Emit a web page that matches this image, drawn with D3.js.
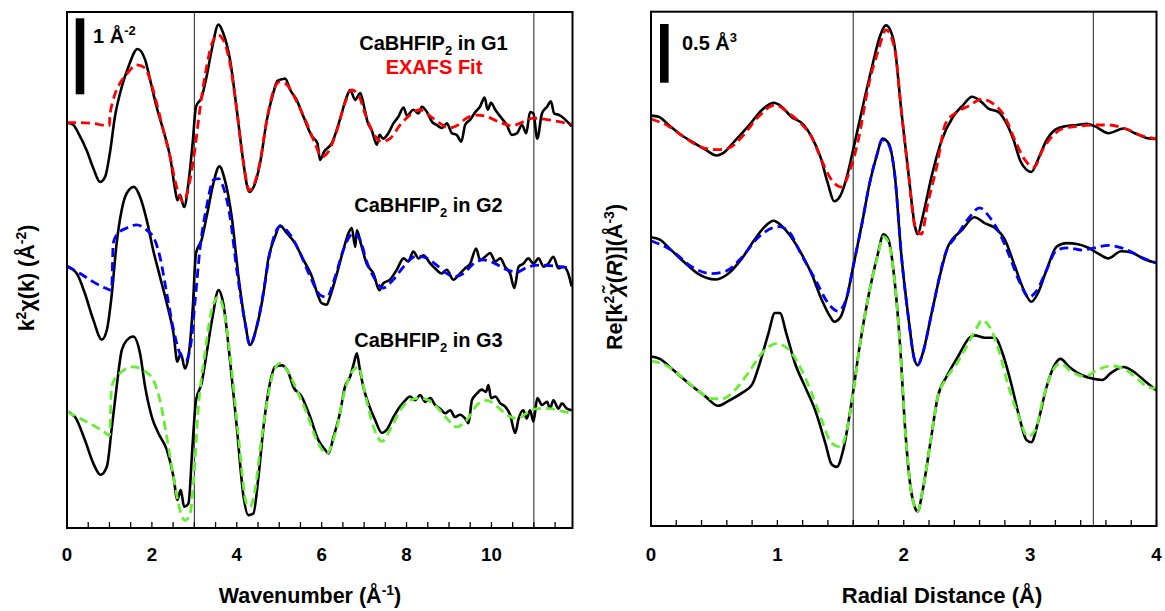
<!DOCTYPE html>
<html><head><meta charset="utf-8">
<script src="https://cdn.jsdelivr.net/npm/d3@7"></script>
<style>
body{margin:0;background:#fff;}
text{font-family:Arial,"Liberation Sans",sans-serif;font-weight:bold;fill:#000;}
</style></head>
<body><svg id="c" width="1165" height="611"></svg>
<script>
// ---------- DATA ----------
const kTicks = [0,2,4,6,8,10];
const rTicks = [0,1,2,3,4];
const kWindow = [3,11];
const rWindow = [1.6,3.5];
const seriesLabels = ["G1","G2","G3"];
const fitColors = ["#ff0000","#0000ff","#66ee33"];
const kOffsets = [1.895,0,-1.908];
const rOffsets = [1.056,0,-1.056];

const g1Data = [[0,0],[0.15,-0.03],[0.27,-0.14],[0.46,-0.36],[0.62,-0.60],[0.78,-0.78],[0.90,-0.71],[1.01,-0.40],[1.13,0.08],[1.29,0.47],[1.45,0.74],[1.66,0.97],[1.84,0.83],[1.96,0.56],[2.11,0.21],[2.27,-0.10],[2.43,-0.45],[2.55,-0.89],[2.60,-1.02],[2.66,-0.95],[2.76,-1.11],[2.86,-0.80],[2.96,-0.27],[3.04,0.21],[3.17,0.33],[3.29,0.61],[3.41,0.96],[3.57,1.29],[3.68,1.18],[3.84,0.83],[4.00,0.17],[4.15,-0.50],[4.25,-0.85],[4.31,-0.91],[4.43,-0.80],[4.55,-0.53],[4.71,0.04],[4.86,0.39],[4.96,0.55],[5.06,0.57],[5.14,0.58],[5.26,0.43],[5.41,0.30],[5.57,0.08],[5.77,-0.18],[5.90,-0.27],[5.96,-0.49],[6.06,-0.38],[6.24,-0.27],[6.43,0.04],[6.59,0.34],[6.67,0.43],[6.79,0.30],[6.91,0.39],[7.00,0.21],[7.08,0.01],[7.18,-0.10],[7.30,-0.29],[7.36,-0.16],[7.45,-0.21],[7.57,-0.14],[7.69,-0.01],[7.81,0.08],[7.93,0.20],[8.01,0.09],[8.16,0.17],[8.28,0.12],[8.36,0.21],[8.48,0.14],[8.60,0.01],[8.71,-0.03],[8.83,-0.07],[8.95,-0.01],[9.07,-0.14],[9.18,-0.16],[9.29,-0.25],[9.38,-0.03],[9.50,0.04],[9.62,0.14],[9.73,0.21],[9.84,0.33],[9.91,0.17],[9.99,0.26],[10.09,0.17],[10.21,0.08],[10.36,-0.03],[10.48,-0.16],[10.60,-0.14],[10.72,-0.03],[10.82,-0.14],[10.91,0.14],[10.99,0.12],[11.08,-0.21],[11.19,0.12],[11.31,0.21],[11.40,0.28],[11.48,0.12],[11.60,0.10],[11.74,0.04],[11.89,-0.05]];
const g1Fit = [[0,0],[0.31,0],[0.62,-0.01],[0.94,-0.04],[1.0,-0.04],[1.01,0.08],[1.09,0.30],[1.25,0.52],[1.41,0.64],[1.64,0.76],[1.84,0.72],[1.96,0.56],[2.11,0.26],[2.27,-0.10],[2.43,-0.45],[2.58,-0.84],[2.74,-1.04],[2.90,-0.75],[3.02,-0.32],[3.13,0.17],[3.29,0.74],[3.45,1.09],[3.57,1.15],[3.68,1.09],[3.84,0.78],[4.00,0.17],[4.15,-0.50],[4.30,-0.89],[4.43,-0.78],[4.55,-0.51],[4.71,0.04],[4.86,0.41],[5.02,0.54],[5.18,0.50],[5.41,0.28],[5.65,-0.01],[5.84,-0.27],[6.00,-0.45],[6.16,-0.38],[6.36,-0.10],[6.55,0.26],[6.71,0.43],[6.87,0.36],[7.02,0.12],[7.22,-0.14],[7.42,-0.25],[7.61,-0.21],[7.85,-0.03],[8.08,0.10],[8.32,0.17],[8.55,0.09],[8.79,-0.01],[8.99,-0.07],[9.18,-0.04],[9.42,0.06],[9.66,0.10],[9.89,0.08],[10.21,0],[10.48,-0.04],[10.75,0.01],[10.99,0.06],[11.31,0.04],[11.62,0.01],[11.89,-0.02]];
const g2Data = [[0,0],[0.23,-0.09],[0.42,-0.35],[0.62,-0.70],[0.82,-0.96],[0.94,-0.83],[1.05,-0.39],[1.17,0.31],[1.29,0.75],[1.41,0.97],[1.58,1.05],[1.72,0.92],[1.88,0.61],[2.03,0.22],[2.19,-0.13],[2.35,-0.48],[2.51,-0.88],[2.60,-1.25],[2.68,-1.14],[2.78,-1.34],[2.88,-1.10],[2.96,-0.57],[3.04,0.18],[3.17,0.35],[3.29,0.66],[3.45,1.10],[3.59,1.32],[3.72,1.14],[3.88,0.66],[4.04,-0.13],[4.20,-0.75],[4.31,-1.03],[4.47,-0.79],[4.63,-0.35],[4.74,0.09],[4.90,0.39],[5.02,0.54],[5.18,0.44],[5.37,0.31],[5.57,0.09],[5.77,-0.13],[5.92,-0.39],[6.00,-0.48],[6.12,-0.50],[6.20,-0.39],[6.36,-0.09],[6.51,0.22],[6.63,0.44],[6.71,0.51],[6.79,0.26],[6.83,0.48],[6.92,0.31],[7.06,0.04],[7.22,-0.09],[7.36,-0.31],[7.45,-0.22],[7.61,-0.17],[7.77,-0.04],[7.93,0.11],[8.04,0.07],[8.16,0.20],[8.28,0.11],[8.40,0.15],[8.56,0.04],[8.67,-0.02],[8.83,-0.09],[8.95,-0.04],[9.10,-0.17],[9.26,-0.09],[9.38,-0.02],[9.50,0.04],[9.64,0.24],[9.73,0.09],[9.85,0.13],[9.97,0.18],[10.09,0.07],[10.21,0.11],[10.32,0],[10.44,-0.09],[10.54,-0.28],[10.64,0],[10.75,0.04],[10.87,0.11],[10.99,0.04],[11.11,0.11],[11.23,0],[11.34,0.04],[11.46,0.13],[11.58,-0.02],[11.70,0],[11.81,-0.09],[11.89,-0.26]];
const g2Fit = [[0,0.01],[0.31,-0.09],[0.62,-0.20],[0.90,-0.28],[1.05,-0.31],[1.09,0.31],[1.17,0.42],[1.41,0.51],[1.64,0.55],[1.88,0.48],[2.07,0.35],[2.19,0.13],[2.35,-0.35],[2.51,-0.83],[2.66,-1.14],[2.80,-1.23],[2.91,-1.05],[3.02,-0.44],[3.13,0.22],[3.29,0.79],[3.45,1.14],[3.57,1.16],[3.68,1.05],[3.84,0.66],[4.00,-0.04],[4.20,-0.75],[4.31,-1.03],[4.47,-0.79],[4.63,-0.33],[4.78,0.18],[5.02,0.53],[5.26,0.42],[5.49,0.18],[5.73,-0.13],[5.96,-0.37],[6.12,-0.40],[6.32,-0.13],[6.51,0.22],[6.75,0.44],[6.91,0.35],[7.06,0.07],[7.22,-0.13],[7.45,-0.28],[7.69,-0.17],[7.93,0],[8.24,0.14],[8.48,0.11],[8.71,0.02],[8.95,-0.09],[9.14,-0.13],[9.34,-0.09],[9.58,0.04],[9.81,0.09],[10.09,0.04],[10.36,-0.04],[10.60,-0.07],[10.87,0],[11.15,0.02],[11.46,0.01],[11.89,-0.02]];
const g3Data = [[0,0],[0.19,-0.07],[0.42,-0.37],[0.62,-0.68],[0.79,-0.83],[0.94,-0.72],[1.05,-0.24],[1.17,0.33],[1.29,0.81],[1.41,0.94],[1.56,0.99],[1.72,0.77],[1.84,0.33],[2.00,-0.07],[2.15,-0.28],[2.35,-0.50],[2.51,-0.86],[2.60,-1.16],[2.68,-1.03],[2.76,-1.25],[2.86,-1.21],[2.96,-0.42],[3.04,0.15],[3.17,0.37],[3.29,0.77],[3.43,1.25],[3.57,1.60],[3.68,1.43],[3.84,0.68],[4.00,-0.20],[4.16,-1.12],[4.27,-1.36],[4.39,-1.34],[4.51,-0.86],[4.63,-0.20],[4.78,0.37],[4.90,0.59],[5.06,0.61],[5.22,0.51],[5.33,0.33],[5.53,0.20],[5.73,-0.07],[5.92,-0.37],[6.08,-0.50],[6.16,-0.55],[6.28,-0.33],[6.43,-0.02],[6.55,0.33],[6.67,0.46],[6.76,0.64],[6.83,0.77],[6.89,0.59],[6.98,0.33],[7.10,0.11],[7.26,-0.11],[7.42,-0.28],[7.53,-0.24],[7.69,-0.07],[7.85,0.07],[7.97,0.15],[8.08,0.20],[8.20,0.15],[8.32,0.22],[8.44,0.13],[8.56,0.18],[8.67,0.09],[8.79,0.04],[8.91,-0.02],[9.03,0.02],[9.14,-0.07],[9.26,-0.04],[9.38,-0.09],[9.46,-0.15],[9.54,0.15],[9.66,0.24],[9.77,0.29],[9.87,0.26],[9.93,0.35],[9.99,0.18],[10.09,0.20],[10.21,0.11],[10.32,0.07],[10.44,-0.04],[10.56,-0.28],[10.64,-0.09],[10.75,0.02],[10.83,-0.09],[10.91,0.02],[10.99,-0.13],[11.08,0.18],[11.19,0.09],[11.31,0.13],[11.38,0.04],[11.46,0.15],[11.58,0.04],[11.66,0.11],[11.78,0.04],[11.89,0.02]];
const g3Fit = [[0,0],[0.31,-0.09],[0.62,-0.18],[0.86,-0.26],[1.00,-0.31],[1.05,0.33],[1.25,0.51],[1.56,0.59],[1.84,0.53],[2.03,0.42],[2.19,0.15],[2.35,-0.33],[2.51,-0.86],[2.66,-1.29],[2.78,-1.43],[2.90,-1.34],[2.99,-0.86],[3.09,0.02],[3.25,0.77],[3.41,1.34],[3.57,1.51],[3.72,1.25],[3.88,0.55],[4.04,-0.33],[4.23,-1.21],[4.31,-1.25],[4.43,-1.03],[4.55,-0.50],[4.71,0.11],[4.86,0.51],[5.02,0.64],[5.18,0.55],[5.41,0.29],[5.65,-0.02],[5.88,-0.37],[6.12,-0.55],[6.36,-0.20],[6.55,0.29],[6.75,0.55],[6.87,0.59],[7.02,0.24],[7.22,-0.20],[7.42,-0.39],[7.61,-0.24],[7.85,0.02],[8.08,0.15],[8.32,0.18],[8.63,0.11],[8.95,-0.09],[9.18,-0.20],[9.42,-0.11],[9.66,0.09],[9.89,0.15],[10.13,0.07],[10.36,-0.04],[10.60,-0.09],[10.83,-0.02],[11.07,0.04],[11.38,0.04],[11.70,0],[11.89,-0.02]];

const r1Data = [[0,0.14],[0.06,0.13],[0.14,0.06],[0.22,-0.01],[0.32,-0.08],[0.43,-0.15],[0.52,-0.20],[0.57,-0.18],[0.66,-0.08],[0.77,0.05],[0.88,0.19],[0.97,0.25],[1.03,0.22],[1.11,0.13],[1.21,0.06],[1.27,-0.04],[1.34,-0.21],[1.40,-0.44],[1.45,-0.59],[1.50,-0.54],[1.55,-0.38],[1.60,-0.15],[1.67,0.19],[1.75,0.56],[1.81,0.81],[1.86,0.91],[1.92,0.78],[1.98,0.19],[2.04,-0.38],[2.09,-0.81],[2.11,-0.87],[2.15,-0.72],[2.22,-0.38],[2.30,-0.07],[2.39,0.13],[2.47,0.23],[2.54,0.30],[2.60,0.27],[2.67,0.20],[2.75,0.17],[2.80,0.10],[2.87,-0.07],[2.92,-0.24],[2.97,-0.32],[3.01,-0.34],[3.06,-0.24],[3.13,-0.07],[3.20,0.02],[3.28,0.05],[3.37,0.06],[3.45,0.07],[3.51,0.05],[3.62,-0.01],[3.74,0.03],[3.83,-0.01],[3.92,-0.05],[4.0,-0.06]];
const r1Fit = [[0,0.11],[0.14,0.05],[0.27,-0.05],[0.40,-0.13],[0.52,-0.15],[0.61,-0.14],[0.72,-0.04],[0.85,0.13],[0.98,0.23],[1.09,0.16],[1.19,0.07],[1.27,-0.04],[1.35,-0.24],[1.43,-0.41],[1.51,-0.47],[1.57,-0.34],[1.64,-0.07],[1.72,0.39],[1.80,0.70],[1.86,0.87],[1.93,0.70],[1.98,0.19],[2.04,-0.38],[2.09,-0.81],[2.14,-0.87],[2.19,-0.61],[2.26,-0.30],[2.33,0.07],[2.42,0.17],[2.51,0.22],[2.62,0.28],[2.71,0.24],[2.80,0.13],[2.88,-0.07],[2.96,-0.24],[3.03,-0.30],[3.10,-0.15],[3.18,-0.03],[3.26,0.03],[3.38,0.05],[3.51,0.06],[3.62,0.06],[3.75,0.03],[3.88,-0.03],[4.0,-0.06]];
const r2Data = [[0,0.16],[0.07,0.14],[0.16,0.05],[0.27,-0.06],[0.37,-0.15],[0.51,-0.20],[0.60,-0.16],[0.72,-0.02],[0.82,0.14],[0.90,0.25],[0.97,0.30],[1.03,0.26],[1.11,0.16],[1.19,0.02],[1.27,-0.15],[1.35,-0.37],[1.42,-0.52],[1.45,-0.56],[1.50,-0.52],[1.55,-0.35],[1.60,-0.09],[1.67,0.28],[1.73,0.62],[1.79,0.87],[1.83,1.00],[1.88,0.96],[1.93,0.68],[1.98,0.02],[2.04,-0.55],[2.08,-0.86],[2.11,-0.93],[2.15,-0.83],[2.22,-0.49],[2.29,-0.15],[2.35,0.08],[2.46,0.22],[2.56,0.33],[2.64,0.28],[2.72,0.24],[2.80,0.14],[2.88,-0.09],[2.95,-0.29],[3.01,-0.39],[3.06,-0.32],[3.13,-0.12],[3.21,0.08],[3.29,0.11],[3.38,0.10],[3.46,0.07],[3.54,0.02],[3.62,-0.02],[3.72,0.04],[3.80,0.03],[3.91,-0.03],[4.0,-0.06]];
const r2Fit = [[0,0.13],[0.16,0.05],[0.32,-0.09],[0.48,-0.15],[0.59,-0.13],[0.72,-0.01],[0.85,0.16],[1.01,0.25],[1.09,0.21],[1.19,0.01],[1.30,-0.20],[1.40,-0.40],[1.48,-0.47],[1.55,-0.35],[1.60,-0.09],[1.67,0.28],[1.73,0.62],[1.79,0.87],[1.83,0.99],[1.88,0.95],[1.93,0.68],[1.98,0.02],[2.04,-0.55],[2.08,-0.86],[2.11,-0.93],[2.15,-0.83],[2.22,-0.49],[2.33,0.02],[2.43,0.19],[2.52,0.33],[2.60,0.41],[2.68,0.33],[2.76,0.19],[2.84,-0.01],[2.92,-0.23],[2.99,-0.35],[3.05,-0.30],[3.13,-0.12],[3.21,0.05],[3.30,0.07],[3.41,0.05],[3.51,0.07],[3.62,0.09],[3.75,0.06],[3.88,-0.01],[4.0,-0.06]];
const r3Data = [[0,0.20],[0.07,0.18],[0.16,0.10],[0.30,-0.03],[0.43,-0.14],[0.53,-0.22],[0.61,-0.18],[0.72,-0.11],[0.80,-0.04],[0.86,0.14],[0.93,0.40],[0.98,0.57],[1.02,0.57],[1.07,0.40],[1.14,0.14],[1.22,-0.06],[1.30,-0.26],[1.38,-0.54],[1.43,-0.72],[1.47,-0.74],[1.52,-0.60],[1.59,-0.17],[1.65,0.28],[1.72,0.71],[1.79,1.05],[1.84,1.24],[1.88,1.19],[1.93,0.82],[1.97,0.31],[2.01,-0.40],[2.05,-0.88],[2.09,-1.09],[2.11,-1.12],[2.15,-0.94],[2.21,-0.54],[2.27,-0.14],[2.34,0.03],[2.43,0.20],[2.52,0.36],[2.56,0.38],[2.64,0.36],[2.72,0.36],[2.79,0.20],[2.85,-0.03],[2.92,-0.34],[2.97,-0.51],[3.01,-0.53],[3.06,-0.37],[3.13,-0.06],[3.20,0.14],[3.24,0.18],[3.31,0.11],[3.41,0.04],[3.50,0.01],[3.57,0],[3.64,0.06],[3.74,0.11],[3.82,0.07],[3.91,-0.01],[4.0,-0.09]];
const r3Fit = [[0,0.16],[0.11,0.13],[0.24,0.03],[0.37,-0.09],[0.48,-0.16],[0.57,-0.16],[0.66,-0.09],[0.77,0.06],[0.88,0.23],[0.99,0.31],[1.09,0.26],[1.18,0.11],[1.27,-0.11],[1.35,-0.34],[1.43,-0.54],[1.50,-0.57],[1.55,-0.43],[1.60,-0.11],[1.65,0.28],[1.72,0.71],[1.79,1.04],[1.84,1.22],[1.88,1.17],[1.93,0.82],[1.97,0.31],[2.01,-0.40],[2.05,-0.88],[2.09,-1.09],[2.11,-1.12],[2.15,-0.94],[2.21,-0.54],[2.27,-0.14],[2.33,0],[2.42,0.14],[2.51,0.31],[2.58,0.45],[2.62,0.51],[2.68,0.45],[2.75,0.26],[2.83,-0.06],[2.91,-0.31],[2.98,-0.48],[3.04,-0.43],[3.10,-0.17],[3.17,0.06],[3.24,0.14],[3.33,0.07],[3.43,0.03],[3.54,0.09],[3.64,0.12],[3.75,0.09],[3.86,0],[3.93,-0.06],[4.0,-0.07]];

// ---------- DRAW ----------
const svg = d3.select("#c");
const L = {x0:67, x1:572.5, y0:12, y1:528};
const R = {x0:651, x1:1156.5, y0:11.7, y1:526};

const xk = d3.scaleLinear().domain([0,11.91]).range([L.x0,L.x1]);
const yk = d3.scaleLinear().domain([-3.438,3.351]).range([L.y1,L.y0]);
const xr = d3.scaleLinear().domain([0,4]).range([R.x0,R.x1]);
const yr = d3.scaleLinear().domain([-2.30,2.081]).range([R.y1,R.y0]);

function panel(P, xs, ys, windowLines, tickStep, tickMax, labels, dataSets, fitSets, offsets, clipId){
  svg.append("clipPath").attr("id",clipId).append("rect")
    .attr("x",P.x0).attr("y",P.y0).attr("width",P.x1-P.x0).attr("height",P.y1-P.y0);
  // window lines
  svg.selectAll(null).data(windowLines).enter().append("line")
    .attr("x1",d=>xs(d)).attr("x2",d=>xs(d)).attr("y1",P.y0).attr("y2",P.y1)
    .attr("stroke","#222").attr("stroke-width",1);
  const g = svg.append("g").attr("clip-path",`url(#${clipId})`);
  dataSets.forEach((ds,i)=>{
    const line = d3.line().x(d=>xs(d[0])).y(d=>ys(d[1]+offsets[i])).curve(d3.curveMonotoneX);
    g.append("path").attr("d",line(ds)).attr("fill","none").attr("stroke","#000")
      .attr("stroke-width",2.6).attr("stroke-linejoin","round");
    g.append("path").attr("d",line(fitSets[i])).attr("fill","none").attr("stroke",fitColors[i])
      .attr("stroke-width",2.8).attr("stroke-dasharray","9,5");
  });
  // ticks
  const ticks = d3.range(0, tickMax+1e-9, tickStep);
  svg.selectAll(null).data(ticks).enter().append("line")
    .attr("x1",d=>xs(d)).attr("x2",d=>xs(d)).attr("y1",P.y1).attr("y2",P.y1-6)
    .attr("stroke","#000").attr("stroke-width",1.3);
  svg.selectAll(null).data(labels).enter().append("text")
    .attr("x",d=>xs(d)).attr("y",561).attr("text-anchor","middle")
    .attr("font-size",18.7).text(d=>d);
  svg.append("rect").attr("x",P.x0).attr("y",P.y0).attr("width",P.x1-P.x0).attr("height",P.y1-P.y0)
    .attr("fill","none").attr("stroke","#000").attr("stroke-width",2);
}

panel(L, xk, yk, kWindow, 0.5, 11.5, kTicks, [g1Data,g2Data,g3Data], [g1Fit,g2Fit,g3Fit], kOffsets, "clipL");
panel(R, xr, yr, rWindow, 0.2, 4, rTicks, [r1Data,r2Data,r3Data], [r1Fit,r2Fit,r3Fit], rOffsets, "clipR");

// scale bars
svg.append("rect").attr("x",75.7).attr("width",8.6).attr("y",18.3).attr("height",yk(0)-yk(1)).attr("fill","#000");
const t1 = svg.append("text").attr("x",93).attr("y",42.5).attr("font-size",20);
t1.append("tspan").text("1 Å");
t1.append("tspan").attr("dy",-8).attr("font-size",13).text("-2");
svg.append("rect").attr("x",660).attr("width",8.6).attr("y",24).attr("height",yr(0)-yr(0.5)).attr("fill","#000");
const t2 = svg.append("text").attr("x",682).attr("y",50).attr("font-size",20);
t2.append("tspan").text("0.5 Å");
t2.append("tspan").attr("dy",-8).attr("font-size",13).text("3");

// series labels
const labelPos = [[433.5,50],[428.5,211.7],[428.5,347]];
seriesLabels.forEach((s,i)=>{
  const t = svg.append("text").attr("x",labelPos[i][0]).attr("y",labelPos[i][1])
    .attr("text-anchor","middle").attr("font-size",20);
  t.append("tspan").text("CaBHFIP");
  t.append("tspan").attr("dy",5).attr("font-size",13).text("2");
  t.append("tspan").attr("dy",-5).text(" in " + s);
});
svg.append("text").attr("x",434).attr("y",74).attr("text-anchor","middle")
  .attr("font-size",20).style("fill","#ff0000").text("EXAFS Fit");

// axis titles
const xt1 = svg.append("text").attr("x",310).attr("y",603).attr("text-anchor","middle").attr("font-size",21.5);
xt1.append("tspan").text("Wavenumber (Å");
xt1.append("tspan").attr("dy",-8).attr("font-size",14).text("-1");
xt1.append("tspan").attr("dy",8).text(")");
svg.append("text").attr("x",942).attr("y",603).attr("text-anchor","middle").attr("font-size",22)
  .text("Radial Distance (Å)");

const yt1 = svg.append("text").attr("transform","translate(34,278) rotate(-90)")
  .attr("text-anchor","middle").attr("font-size",21.5);
yt1.append("tspan").text("k");
yt1.append("tspan").attr("dy",-8).attr("font-size",14).text("2");
yt1.append("tspan").attr("dy",8).text("χ(k) (Å");
yt1.append("tspan").attr("dy",-8).attr("font-size",14).text("-2");
yt1.append("tspan").attr("dy",8).text(")");

const yt2 = svg.append("text").attr("transform","translate(622,277) rotate(-90)")
  .attr("text-anchor","middle").attr("font-size",21.5);
yt2.append("tspan").text("Re[k");
yt2.append("tspan").attr("dy",-8).attr("font-size",14).text("2");
yt2.append("tspan").attr("dy",8).attr("font-style","italic").text("χ\u0303");
yt2.append("tspan").text("(");
yt2.append("tspan").attr("font-style","italic").text("R");
yt2.append("tspan").text(")](Å");
yt2.append("tspan").attr("dy",-8).attr("font-size",14).text("-3");
yt2.append("tspan").attr("dy",8).text(")");
</script></body></html>
